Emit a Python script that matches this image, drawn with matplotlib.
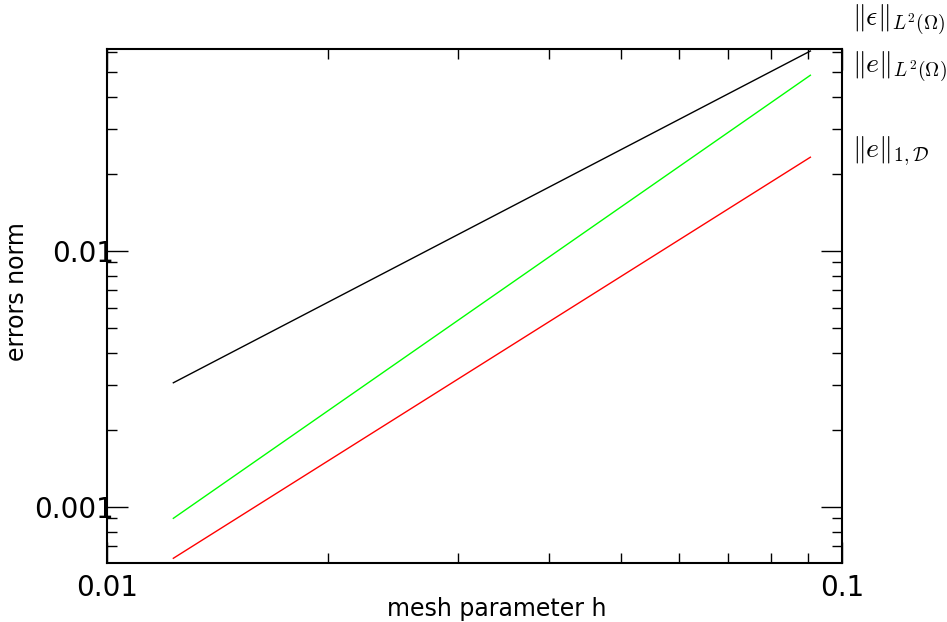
import matplotlib
matplotlib.use("Agg")
import matplotlib.pyplot as plt
from matplotlib.ticker import NullFormatter

# mesh parameter (ends of the convergence lines)
h = [0.01231, 0.0906]
# error norms
err_eps_L2 = [0.00305, 0.0603]   # ||eps||_L2
err_e_L2 = [0.000901, 0.0485]    # ||e||_L2
err_e_1D = [0.000629, 0.0232]    # ||e||_1,D

labels = [r'$\|\epsilon\|_{L^2(\Omega)}$',
          r'$\|e\|_{L^2(\Omega)}$',
          r'$\|e\|_{1,\mathcal{D}}$']
label_y = [0.968, 0.893, 0.756]   # figure fraction

plt.rcParams['mathtext.fontset'] = 'cm'

fig = plt.figure(figsize=(9.47, 6.22), dpi=100)
ax = fig.add_axes([0.113, 0.0949, 0.776, 0.8263])

ax.plot(h, err_eps_L2, color='black', lw=1.0)
ax.plot(h, err_e_L2, color='#00ff00', lw=1.0)
ax.plot(h, err_e_1D, color='#ff0000', lw=1.0)

ax.set_xscale('log')
ax.set_yscale('log')
ax.set_xlim(0.01, 0.1)
ax.set_ylim(0.000603, 0.0614)

ax.set_xticks([0.01, 0.1])
ax.set_xticklabels(['0.01', '0.1'])
ax.set_yticks([0.001, 0.01])
ax.set_yticklabels(['0.001', '0.01'])
ax.xaxis.set_minor_formatter(NullFormatter())
ax.yaxis.set_minor_formatter(NullFormatter())

ax.tick_params(which='both', direction='in', top=True, right=True, width=1.0)
ax.tick_params(which='major', length=15, labelsize=20)
ax.tick_params(which='minor', length=7)
ax.tick_params(axis='y', which='major', pad=-5)
ax.tick_params(axis='x', which='major', pad=8)
for s in ax.spines.values():
    s.set_linewidth(1.5)

ax.set_xlabel('mesh parameter h', fontsize=17)
ax.xaxis.set_label_coords(0.53, -0.066)
ax.set_ylabel('errors norm', fontsize=17)
ax.yaxis.set_label_coords(-0.106, 0.528)

for lab, yy in zip(labels, label_y):
    fig.text(0.9, yy, lab, fontsize=20, va='center', ha='left')

fig.savefig('out.png', dpi=100)
